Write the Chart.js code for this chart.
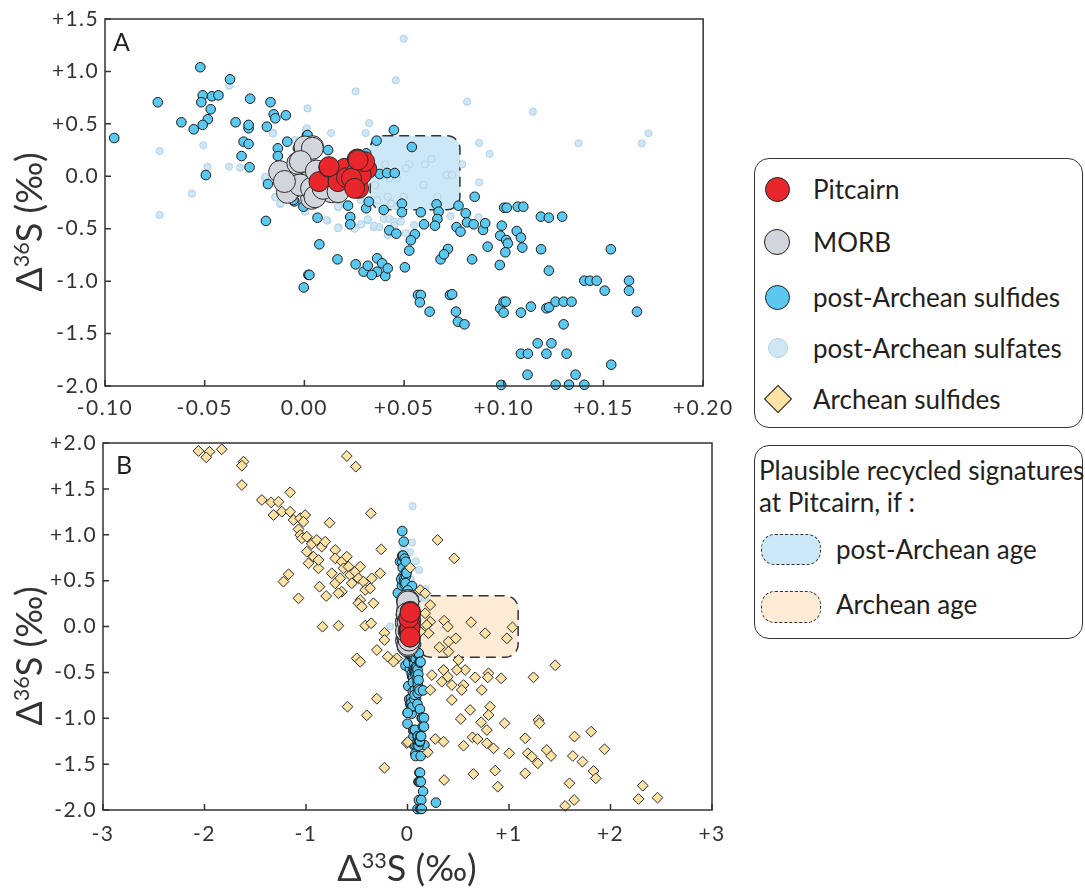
<!DOCTYPE html>
<html>
<head>
<meta charset="utf-8">
<script src="https://cdn.jsdelivr.net/npm/chart.js@4.4.1/dist/chart.umd.min.js"></script>
<style>
  html,body{margin:0;padding:0;background:#fff;}
  body{width:1085px;height:888px;position:relative;overflow:hidden;font-family:Lato,"Open Sans",sans-serif;color:#231f20;}
  canvas{position:absolute;left:0;}
  .ytitle{position:absolute;width:240px;height:44px;line-height:44px;text-align:center;font-size:36px;transform:rotate(-90deg);white-space:nowrap;color:#333;}
  .xtitle{position:absolute;width:240px;height:44px;line-height:44px;text-align:center;font-size:36px;white-space:nowrap;color:#333;}
  sup{font-size:0.6em;vertical-align:0.62em;line-height:0;}
  .panel{position:absolute;font-size:25px;color:#231f20;}
  .lbox{position:absolute;border:1.3px solid #333;border-radius:15px;box-sizing:border-box;}
  .litem{position:absolute;font-size:26px;line-height:30px;white-space:nowrap;color:#231f20;}
  .mk{position:absolute;border:1.2px solid #222;border-radius:50%;box-sizing:border-box;}
  .sw{position:absolute;border:1.5px dashed #333;border-radius:14px;box-sizing:border-box;}
</style>
</head>
<body>
<canvas id="cA" width="740" height="420" style="top:0"></canvas>
<canvas id="cB" width="740" height="440" style="top:420px"></canvas>

<div class="ytitle" style="left:-92px;top:200px;">&Delta;<sup>36</sup>S (‰)</div>
<div class="ytitle" style="left:-92px;top:634px;">&Delta;<sup>36</sup>S (‰)</div>
<div class="xtitle" style="left:287px;top:845px;">&Delta;<sup>33</sup>S (‰)</div>
<div class="panel" style="left:113px;top:26px;">A</div>
<div class="panel" style="left:116px;top:449px;">B</div>

<div class="lbox" style="left:754px;top:158px;width:329px;height:270px;"></div>
<div class="mk" style="left:764.5px;top:176.5px;width:25px;height:25px;background:#e8262b;"></div>
<div class="litem" style="left:813px;top:174px;">Pitcairn</div>
<div class="mk" style="left:764px;top:229px;width:26px;height:26px;background:#d3d5dc;"></div>
<div class="litem" style="left:813px;top:227px;">MORB</div>
<div class="mk" style="left:764.5px;top:284.5px;width:25px;height:25px;background:#5bc8f0;"></div>
<div class="litem" style="left:813px;top:282px;">post-Archean sulfides</div>
<div class="mk" style="left:768px;top:338px;width:20px;height:20px;background:#cfe6f5;border-color:#b3d2e6;"></div>
<div class="litem" style="left:813px;top:333px;">post-Archean sulfates</div>
<div class="mk" style="left:768px;top:389px;width:20px;height:20px;background:#fde2a6;border-radius:0;transform:rotate(45deg);"></div>
<div class="litem" style="left:813px;top:384px;">Archean sulfides</div>

<div class="lbox" style="left:754px;top:445px;width:329px;height:194px;"></div>
<div class="litem" style="left:759px;top:455px;">Plausible recycled signatures</div>
<div class="litem" style="left:759px;top:487px;">at Pitcairn, if :</div>
<div class="sw" style="left:761px;top:534px;width:60px;height:31px;background:#cce8f7;"></div>
<div class="litem" style="left:836px;top:534px;">post-Archean age</div>
<div class="sw" style="left:761px;top:591px;width:60px;height:32px;background:#fdebd5;"></div>
<div class="litem" style="left:836px;top:589px;">Archean age</div>

<script>
// ---------------- DATA ----------------
// Panel A axes
const xTicksA = [-0.10, -0.05, 0.00, 0.05, 0.10, 0.15, 0.20];
const xLabelsA = ["-0.10", "-0.05", "0.00", "+0.05", "+0.10", "+0.15", "+0.20"];
const yTicksA = [-2.0, -1.5, -1.0, -0.5, 0.0, 0.5, 1.0, 1.5];
const yLabelsA = ["-2.0", "-1.5", "-1.0", "-0.5", "0.0", "+0.5", "+1.0", "+1.5"];
// Panel B axes
const xTicksB = [-3, -2, -1, 0, 1, 2, 3];
const xLabelsB = ["-3", "-2", "-1", "0", "+1", "+2", "+3"];
const yTicksB = [-2.0, -1.5, -1.0, -0.5, 0.0, 0.5, 1.0, 1.5, 2.0];
const yLabelsB = ["-2.0", "-1.5", "-1.0", "-0.5", "0.0", "+0.5", "+1.0", "+1.5", "+2.0"];

// Highlight regions [xmin, xmax, ymin, ymax]
const postArcheanRegion = [0.033, 0.078, -0.32, 0.387];
const archeanRegion = [0.10, 1.09, -0.336, 0.336];

// [D33S, D36S]
const pitcairn = [[0.0073,-0.051],[0.0122,0.086],[0.0169,-0.051],[0.0202,0.076],[0.0211,-0.013],[0.0265,0.165],[0.0272,-0.115],[0.026,0.038],[0.0313,0.069],[0.0285,0.012],[0.0236,-0.019],[0.0302,0.14],[0.0124,0.092],[0.0269,0.155],[0.0252,-0.115]];

const morb = [[-0.0124,0.044],[0.0041,0.282],[-0.003,0.13],[-0.008,-0.147],[0.0036,-0.21],[0.0023,-0.099],[-0.0022,-0.035],[0.0078,0.029],[0.0136,-0.147],[0.0111,-0.083],[-0.0033,0.123],[-0.0085,-0.153],[-0.0022,-0.083],[0.0003,0.172],[0.0003,0.28],[0.004,0.267],[-0.002,0.14],[0.0036,-0.115],[0.0053,-0.195],[0.0094,-0.115],[0.0119,0.012],[0.0169,-0.147],[-0.01,-0.05],[0.006,0.05]];

const sulfides = [[-0.0954,0.365],[-0.0735,0.706],[-0.0522,1.04],[-0.0373,0.925],[-0.051,0.772],[-0.0517,0.706],[-0.0464,0.763],[-0.0431,0.772],[-0.047,0.639],[-0.0484,0.544],[-0.051,0.49],[-0.0555,0.448],[-0.0617,0.515],[-0.0494,0.012],[-0.0272,0.74],[-0.0345,0.515],[-0.028,0.458],[-0.028,0.49],[-0.0305,0.33],[-0.028,0.308],[-0.0315,0.193],[-0.0275,0.086],[-0.017,0.706],[-0.0154,0.591],[-0.0146,0.553],[-0.0093,0.582],[-0.0188,0.473],[-0.0086,0.33],[-0.0133,0.267],[-0.0133,0.193],[-0.0033,0.267],[0.0012,0.387],[-0.0183,-0.074],[-0.0193,-0.426],[0.002,-0.94],[-0.0003,-1.06],[-0.0005,-0.29],[-0.005,-0.24],[-0.0055,-0.226],[-0.012,0.1],[0.005,-0.2],[-0.01,-0.15],
[0.0449,0.441],[0.0362,0.34],[0.0539,0.279],[0.0378,0.022],[0.0415,0.031],[0.0453,0.031],[0.0016,0.394],[0.0119,0.25],[0.031,0.219],[0.0219,-0.28],[0.031,-0.305],[0.0323,-0.242],[0.023,-0.388],[0.023,-0.458],[0.0066,-0.395],[0.0075,-0.649],[0.0166,-0.792],[0.0257,-0.84],[0.0297,-0.91],[0.0318,-0.853],[0.0365,-0.782],[0.039,-0.83],[0.0365,-0.91],[0.0338,-0.941],[0.0406,-0.951],[0.0418,-0.878],[0.0504,-0.868],[0.0025,-0.941],[0.0398,-0.321],[0.0489,-0.261],[0.0489,-0.343],[0.0584,-0.343],[0.0426,-0.515],[0.0461,-0.547],[0.06,-0.458],[0.0554,-0.553],[0.0534,-0.61],[0.0526,-0.709],[0.0663,-0.267],[0.0673,-0.337],[0.0667,-0.407],[0.0655,-0.471],[0.0773,-0.28],[0.0763,-0.484],[0.0783,-0.528],[0.0809,-0.353],[0.0816,-0.439],[0.0849,-0.458],[0.0854,-0.195],[0.0896,-0.512],[0.0907,-0.448],[0.0919,-0.671],[0.0841,-0.792],[0.072,-0.693],[0.0683,-0.792],[0.07,-0.744],[0.057,-1.132],[0.0584,-1.132],[0.0579,-1.202],[0.0628,-1.291],[0.073,-1.132],[0.0741,-1.125],[0.076,-1.291],[0.077,-1.387],[0.0803,-1.412],[0.0987,-1.99],[0.1002,-0.3],[0.099,-0.471],[0.0982,-0.566],[0.098,-0.846],[0.0982,-1.259],[0.0999,-1.3],[0.0999,-1.196],
[0.1015,-0.3],[0.107,-0.29],[0.1098,-0.29],[0.1186,-0.385],[0.1226,-0.395],[0.1293,-0.385],[0.1012,-0.608],[0.102,-0.64],[0.1065,-0.522],[0.1086,-0.585],[0.1093,-0.68],[0.1008,-0.725],[0.1187,-0.696],[0.1226,-0.9],[0.1537,-0.696],[0.1404,-0.996],[0.1432,-0.996],[0.1466,-0.996],[0.1506,-1.091],[0.1628,-0.996],[0.1628,-1.091],[0.1668,-1.291],[0.101,-1.196],[0.1086,-1.3],[0.1136,-1.243],[0.1214,-1.259],[0.1227,-1.249],[0.126,-1.196],[0.13,-1.196],[0.134,-1.196],[0.13,-1.412],[0.117,-1.593],[0.1239,-1.593],[0.1086,-1.692],[0.1121,-1.692],[0.1214,-1.692],[0.1315,-1.692],[0.1539,-1.797],[0.1119,-1.892],[0.136,-1.892],[0.126,-1.988],[0.1327,-1.988],[0.1404,-1.988],
[0.28,-1.92]];

const sulfates = [[-0.0726,0.241],[-0.0726,-0.369],[-0.0564,-0.166],[-0.0507,0.296],[-0.0486,0.092],[-0.0378,0.864],[-0.0378,0.092],[-0.0323,0.082],[-0.0274,0.49],[-0.0156,0.413],[-0.0196,-0.019],[-0.0146,-0.197],[-0.0121,-0.264],[0.0016,0.648],[0.0006,0.44],[-0.0046,0.346],
[0.0498,1.312],[0.0458,0.915],[0.0257,0.81],[0.0816,0.711],[0.0325,0.508],[0.0307,0.413],[0.0134,0.413],[0.0876,0.318],[0.0929,0.213],[0.0792,0.114],[0.0876,-0.057],[0.0874,-0.391],[0.0733,-0.379],[0.0637,0.165],[0.0605,0.114],[0.0526,0.114],[0.0509,0.076],[0.0713,0.012],[0.0741,0.012],[0.0597,-0.083],[0.0406,0.114],[0.0426,-0.019],[0.0463,-0.019],[0.0355,-0.083],[0.0418,-0.195],[0.0498,-0.195],[0.0667,-0.195],[0.0365,-0.226],[0.0434,-0.258],[0.0172,-0.487],[0.0116,-0.423],[0.0252,-0.487],[0.0285,-0.458],[0.0318,-0.42],[0.0348,-0.487],[0.0376,-0.484],[0.0398,-0.407],[0.0426,-0.407],[0.0451,-0.433],[0.0484,-0.433],[0.0418,-0.56],[0.0509,-0.544],[0.055,-0.465],[0.0169,-0.296],[0.0202,-0.258],[0.0282,-0.226],[0.0468,-0.29],[0.0003,-0.337],[0.0169,-0.29],[0.0169,-0.496],[0.0111,-0.417],[0.0012,0.458],[-0.0159,0.41],[-0.0196,-0.004],[-0.0146,-0.2],[-0.0121,-0.258],[0.1146,0.616],[0.1375,0.315],[0.1692,0.315],[0.1726,0.41],
[0.0252,-0.5],[0.0318,-0.41],[0.035,-0.47],[0.045,-0.47],[-0.17,0.0]];

const archean = [[-2.059,1.913],[-1.951,1.905],[-1.983,1.844],[-1.83,1.931],[-1.616,1.797],[-1.632,1.753],[-1.632,1.542],[-0.598,1.858],[-0.509,1.742],[-1.435,1.379],[-1.343,1.353],[-1.271,1.36],[-1.32,1.215],[-1.156,1.462],[-1.238,1.251],[-1.156,1.251],[-1.123,1.161],[-1.057,1.179],[-1.008,1.215],[-1.025,1.142],[-1.074,1.059],[-1.057,0.997],[-1.041,0.961],[-0.992,0.979],[-0.943,0.9],[-0.894,0.943],[-0.845,0.87],[-0.811,0.924],[-0.992,0.815],[-0.926,0.761],[-0.877,0.634],[-0.975,0.689],[-0.877,0.725],[-0.768,1.131],[-0.361,1.234],[-0.259,0.841],[-0.712,0.834],[-0.712,0.743],[-0.647,0.707],[-0.598,0.761],[-0.631,0.634],[-0.581,0.652],[-0.746,0.58],[-0.712,0.471],[-0.663,0.525],[-0.647,0.379],[-0.68,0.362],[-0.565,0.561],[-0.549,0.471],[-0.515,0.598],[-0.466,0.652],[-0.483,0.525],[-0.434,0.489],[-0.352,0.525],[-0.417,0.398],[-0.368,0.416],[-0.466,0.289],[-0.483,0.253],[-0.45,0.216],[-0.335,0.253],[-0.269,0.58],[-1.172,0.569],[-1.222,0.489],[-1.074,0.307],[-0.867,0.434],[-0.801,0.332],[-0.837,-0.002],[-0.68,0.009],[-0.417,0.009],[-0.358,0.035],[-0.227,-0.068],[-0.227,-0.147],[-0.302,-0.256],[-0.194,-0.329],[-0.105,-0.347],[-0.5,-0.347],[-0.466,-0.384],[-0.591,-0.874],[-0.401,-0.968],[-0.302,-0.787],[-0.227,-1.539],[-0.138,-0.384],
[0.296,0.943],[0.46,0.743],[0.027,0.641],[0.125,0.398],[0.174,0.362],[0.224,0.234],[0.174,0.144],[0.224,0.052],[0.19,0.016],[0.207,-0.074],[0.125,-0.057],[0.361,0.063],[0.397,-0.002],[0.627,0.046],[0.765,-0.074],[0.979,-0.129],[1.034,-0.009],[0.315,-0.227],[0.404,-0.165],[0.476,-0.129],[0.404,-0.274],[0.502,-0.365],[0.568,-0.474],[0.486,-0.474],[0.355,-0.474],[0.338,-0.602],[0.24,-0.529],[0.224,-0.692],[0.397,-0.547],[0.437,-0.638],[0.437,-0.801],[0.552,-0.638],[0.535,-0.692],[0.667,-0.554],[0.732,-0.692],[0.798,-0.51],[0.791,-0.554],[0.923,-0.565],[1.241,-0.554],[1.455,-0.423],[0.525,-1.008],[0.617,-0.91],[0.726,-1.044],[0.782,-1.128],[0.814,-0.874],[0.798,-0.965],[0.956,-1.055],[0.782,-1.273],[0.847,-1.328],[0.64,-1.208],[0.69,-1.226],[0.552,-1.299],[0.273,-1.226],[0.355,-1.255],[0.2,-1.371],[1.002,-1.382],[1.16,-1.218],[1.185,-1.382],[1.291,-1.019],[1.3,-1.055],[1.284,-1.491],[1.225,-1.419],[1.372,-1.346],[1.415,-1.411],[1.645,-1.2],[1.81,-1.146],[1.941,-1.338],[1.629,-1.411],[1.724,-1.473],[1.833,-1.575],[1.855,-1.655],[1.596,-1.709],[1.642,-1.891],[1.553,-1.956],[1.16,-1.6],[0.864,-1.571],[0.89,-1.746],[0.65,-1.608],[0.361,-1.673],[2.318,-1.735],[2.276,-1.88],[2.463,-1.866],[-0.007,-1.27],[0.003,-1.26]];

// ---------------- RENDERING ----------------
const toXY = arr => arr.map(p => ({x: p[0], y: p[1]}));
const TICK_FONT = {family: 'Lato', size: 21};
const TICK_COLOR = '#333';

const framePlugin = {
  id: 'frame',
  beforeDraw(chart) { chart.ctx.letterSpacing = '1.4px'; },
  beforeDatasetsDraw(chart, args, opts) {
    const r = opts.region; if (!r) return;
    const xs = chart.scales.x, ys = chart.scales.y, ctx = chart.ctx;
    const x0 = xs.getPixelForValue(r[0]), x1 = xs.getPixelForValue(r[1]);
    const y0 = ys.getPixelForValue(r[3]), y1 = ys.getPixelForValue(r[2]);
    ctx.save();
    ctx.beginPath();
    ctx.roundRect(x0, y0, x1 - x0, y1 - y0, 13);
    ctx.fillStyle = opts.fill; ctx.fill();
    ctx.setLineDash([10, 6]); ctx.lineWidth = 1.5; ctx.strokeStyle = '#333'; ctx.stroke();
    ctx.restore();
  },
  afterDatasetsDraw(chart, args, opts) {
    const a = chart.chartArea, ctx = chart.ctx;
    const xs = chart.scales.x, ys = chart.scales.y;
    ctx.save();
    ctx.strokeStyle = '#333'; ctx.lineWidth = 1.5;
    ctx.strokeRect(a.left, a.top, a.right - a.left, a.bottom - a.top);
    ctx.beginPath();
    xs.ticks.forEach(t => { const p = xs.getPixelForValue(t.value); ctx.moveTo(p, a.bottom); ctx.lineTo(p, a.bottom - 6); });
    ys.ticks.forEach(t => { const p = ys.getPixelForValue(t.value); ctx.moveTo(a.left, p); ctx.lineTo(a.left + 6, p); });
    ctx.stroke();
    ctx.restore();
  },
  afterDraw(chart) { chart.ctx.letterSpacing = '0px'; }
};

function makeChart(id, cfg) {
  const ds = [
    {label: 'Pitcairn', data: toXY(pitcairn), order: 1, pointRadius: 10, backgroundColor: '#e8262b', borderColor: '#2a2a2a', borderWidth: 1},
    {label: 'MORB', data: toXY(morb), order: 3, pointRadius: 11, backgroundColor: '#d3d5dc', borderColor: '#2a2a2a', borderWidth: 1},
    {label: 'post-Archean sulfides', data: toXY(sulfides), order: 4, pointRadius: 4.8, backgroundColor: '#5bc8f0', borderColor: '#1a1a1a', borderWidth: 1},
    {label: 'post-Archean sulfates', data: toXY(sulfates), order: 5, pointRadius: 3.6, backgroundColor: '#cfe6f5', borderColor: '#b3d2e6', borderWidth: 1}
  ];
  if (cfg.archean) ds.push({label: 'Archean sulfides', data: toXY(archean), order: 2, pointStyle: 'rectRot', pointRadius: 5.4, backgroundColor: '#fde2a6', borderColor: '#2a2a2a', borderWidth: 1});
  ds.forEach(d => { d.clip = 6; d.pointHoverRadius = d.pointRadius; });
  return new Chart(document.getElementById(id), {
    type: 'scatter',
    data: {datasets: ds},
    plugins: [framePlugin],
    options: {
      responsive: false, animation: false, events: [],
      layout: {padding: cfg.padding},
      plugins: {legend: {display: false}, tooltip: {enabled: false}, frame: {region: cfg.region, fill: cfg.fill}},
      scales: {
        x: {
          type: 'linear', min: cfg.xTicks[0], max: cfg.xTicks[cfg.xTicks.length - 1],
          grid: {display: false, drawTicks: false}, border: {display: false},
          afterBuildTicks: s => { s.ticks = cfg.xTicks.map(v => ({value: v})); },
          afterFit: s => { s.height = cfg.xH; },
          ticks: {font: TICK_FONT, color: TICK_COLOR, padding: cfg.xPad, maxRotation: 0, autoSkip: false,
                  callback: (v, i) => cfg.xLabels[i]}
        },
        y: {
          type: 'linear', min: cfg.yTicks[0], max: cfg.yTicks[cfg.yTicks.length - 1],
          grid: {display: false, drawTicks: false}, border: {display: false},
          afterBuildTicks: s => { s.ticks = cfg.yTicks.map(v => ({value: v})); },
          afterFit: s => { s.width = cfg.yW; },
          ticks: {font: TICK_FONT, color: TICK_COLOR, padding: 6, autoSkip: false,
                  callback: (v, i) => cfg.yLabels[i]}
        }
      }
    }
  });
}

makeChart('cA', {xTicks: xTicksA, xLabels: xLabelsA, yTicks: yTicksA, yLabels: yLabelsA,
  padding: {top: 19, right: 32, left: 0, bottom: 0}, xH: 34, yW: 105, xPad: 10,
  region: postArcheanRegion, fill: '#cce8f7', archean: false});
makeChart('cB', {xTicks: xTicksB, xLabels: xLabelsB, yTicks: yTicksB, yLabels: yLabelsB,
  padding: {top: 23, right: 28, left: 0, bottom: 0}, xH: 50, yW: 103, xPad: 12,
  region: archeanRegion, fill: '#fdebd5', archean: true});
</script>
</body>
</html>
